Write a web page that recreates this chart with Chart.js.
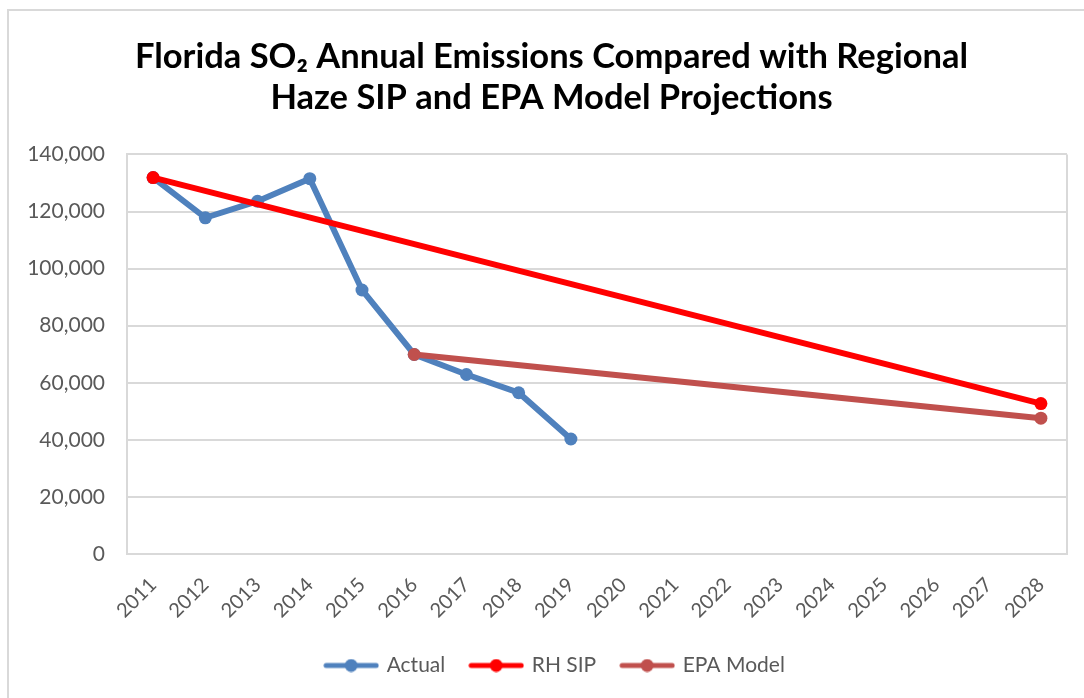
<!DOCTYPE html>
<html>
<head>
<meta charset="utf-8">
<title>Florida SO2 Annual Emissions</title>
<script src="https://cdn.jsdelivr.net/npm/chart.js@4.4.0/dist/chart.umd.min.js"></script>
<style>
  html, body { margin: 0; padding: 0; background: #fff; }
  #wrap { width: 1084px; height: 698px; }
</style>
</head>
<body>
<div id="wrap"><canvas id="so2Chart" width="1084" height="698"></canvas></div>
<script>
// data
var years = ["2011", "2012", "2013", "2014", "2015", "2016", "2017", "2018", "2019",
             "2020", "2021", "2022", "2023", "2024", "2025", "2026", "2027", "2028"];
var actual = [131900, 117800, 123600, 131500, 92500, 69900, 62900, 56500, 40300,
              null, null, null, null, null, null, null, null, null];
var rhSip = [131900, null, null, null, null, null, null, null, null,
             null, null, null, null, null, null, null, null, 52700];
var epaModel = [null, null, null, null, null, 69900, null, null, null,
                null, null, null, null, null, null, null, null, 47600];
var yTicks = [0, 20000, 40000, 60000, 80000, 100000, 120000, 140000];

var seriesNames = ["Actual", "RH SIP", "EPA Model"];
var seriesColors = ["#4F81BD", "#FF0000", "#C0504D"];

var FONT = "Lato, 'Open Sans', sans-serif";
var GREY_TXT = "#595959";
var GRID = "#D9D9D9";

// little line+dot picture for the legend, like excel does it
function legendMarker(color) {
  var c = document.createElement("canvas");
  c.width = 56;
  c.height = 14;
  var ctx = c.getContext("2d");
  ctx.strokeStyle = color;
  ctx.lineWidth = 5;
  ctx.lineCap = "round";
  ctx.beginPath();
  ctx.moveTo(3, 7);
  ctx.lineTo(53, 7);
  ctx.stroke();
  ctx.fillStyle = color;
  ctx.beginPath();
  ctx.arc(28, 7, 6.5, 0, Math.PI * 2);
  ctx.fill();
  return c;
}
var markers = seriesColors.map(legendMarker);

// outer chart frame + right edge of plot area
var framePlugin = {
  id: "frame",
  afterLayout: function (chart) {
    // excel centres title/legend in a wider frame, nudge them right
    chart.legend.left += 22;
    chart.legend.right += 22;
    chart.titleBlock.left += 18;
    chart.titleBlock.right += 18;
  },
  beforeDraw: function (chart) {
    var ctx = chart.ctx;
    ctx.save();
    ctx.strokeStyle = GRID;
    ctx.lineWidth = 2;
    ctx.beginPath();
    ctx.moveTo(8, 698);
    ctx.lineTo(8, 10);
    ctx.lineTo(1084, 10);
    ctx.stroke();
    ctx.restore();
  },
  afterDraw: function (chart) {
    var a = chart.chartArea;
    var ctx = chart.ctx;
    ctx.save();
    ctx.strokeStyle = GRID;
    ctx.lineWidth = 2;
    ctx.beginPath();
    ctx.moveTo(a.right, a.top);
    ctx.lineTo(a.right, a.bottom);
    ctx.stroke();
    ctx.restore();
  }
};

function lineSet(i, values) {
  return {
    label: seriesNames[i],
    data: values,
    borderColor: seriesColors[i],
    backgroundColor: seriesColors[i],
    borderWidth: 6,
    pointRadius: 6.5,
    pointHoverRadius: 6.5,
    pointBorderWidth: 0,
    pointBackgroundColor: seriesColors[i],
    spanGaps: true,
    tension: 0,
    order: 3 - i
  };
}

new Chart(document.getElementById("so2Chart"), {
  type: "line",
  data: {
    labels: years,
    datasets: [lineSet(0, actual), lineSet(1, rhSip), lineSet(2, epaModel)]
  },
  plugins: [framePlugin],
  options: {
    responsive: false,
    animation: false,
    layout: { padding: { left: 0, right: 17, top: 0, bottom: 12 } },
    plugins: {
      tooltip: { enabled: false },
      title: {
        display: true,
        text: ["Florida SO\u2082 Annual Emissions Compared with Regional",
               "Haze SIP and EPA Model Projections"],
        color: "#000",
        font: { family: FONT, size: 34.5, weight: "bold", lineHeight: 1.18 },
        padding: { top: 37, bottom: 36 }
      },
      legend: {
        position: "bottom",
        labels: {
          usePointStyle: true,
          pointStyleWidth: 50,
          color: GREY_TXT,
          font: { family: FONT, size: 21 },
          padding: 26,
          generateLabels: function (chart) {
            return chart.data.datasets.map(function (ds, i) {
              return {
                text: ds.label,
                pointStyle: markers[i],
                fillStyle: seriesColors[i],
                strokeStyle: seriesColors[i],
                lineWidth: 0,
                fontColor: GREY_TXT,
                hidden: false,
                datasetIndex: i
              };
            });
          }
        }
      }
    },
    scales: {
      x: {
        offset: true,
        grid: { display: false, drawTicks: false },
        border: { display: true, color: GRID, width: 2 },
        ticks: {
          color: GREY_TXT,
          font: { family: FONT, size: 20 },
          minRotation: 45,
          maxRotation: 45,
          padding: 19,
          autoSkip: false
        },
        afterFit: function (scale) { scale.height = 75; }
      },
      y: {
        min: 0,
        max: 140000,
        afterBuildTicks: function (scale) {
          scale.ticks = yTicks.map(function (v) { return { value: v }; });
        },
        grid: { color: GRID, lineWidth: 2, drawTicks: false },
        border: { display: true, color: GRID, width: 2 },
        ticks: {
          color: GREY_TXT,
          font: { family: FONT, size: 21 },
          padding: 22,
          callback: function (v) { return Number(v).toLocaleString("en-US"); }
        },
        afterFit: function (scale) { scale.width = 127; }
      }
    }
  }
});
</script>
</body>
</html>
